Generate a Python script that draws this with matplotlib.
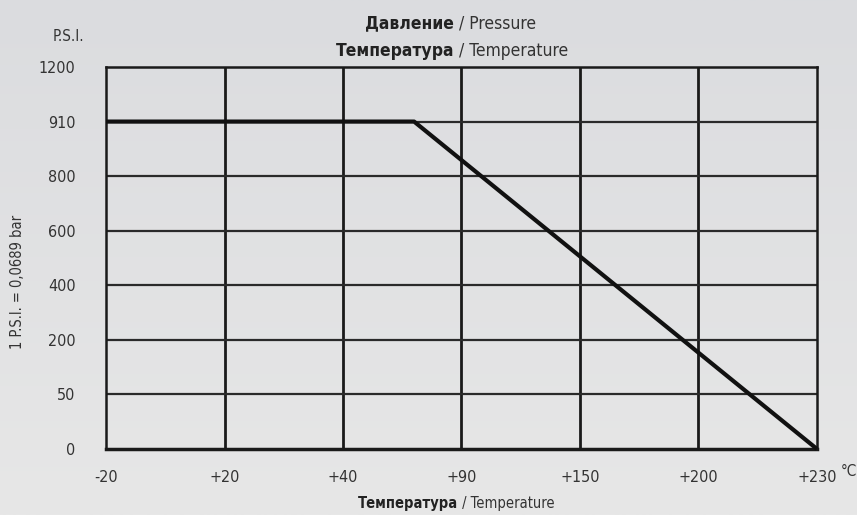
import numpy as np
import matplotlib.pyplot as plt
from matplotlib.colors import LinearSegmentedColormap

# tick values (axes are not linear: each tick is equally spaced)
x_ticks = [-20, 20, 40, 90, 150, 200, 230]
x_labels = ["-20", "+20", "+40", "+90", "+150", "+200", "+230"]
y_ticks = [0, 50, 200, 400, 600, 800, 910, 1200]
y_labels = ["0", "50", "200", "400", "600", "800", "910", "1200"]

# pressure / temperature curve
temp = [-20, 70, 230]
psi = [910, 910, 0]

plt.rcParams["font.family"] = ["DejaVu Sans"]
plt.rcParams["font.stretch"] = "condensed"


def fwd(tk):
    tk = np.asarray(tk, dtype=float)
    return lambda v: np.interp(v, tk, np.arange(len(tk)))


def inv(tk):
    tk = np.asarray(tk, dtype=float)
    return lambda v: np.interp(v, np.arange(len(tk)), tk)


fig = plt.figure(figsize=(8.57, 5.15), dpi=100)

# light grey gradient background
bg = fig.add_axes([0, 0, 1, 1], zorder=-10)
grad = np.linspace(0, 1, 256).reshape(-1, 1)
bg.imshow(grad, aspect="auto", extent=[0, 1, 0, 1],
          cmap=LinearSegmentedColormap.from_list("g", ["#dbdcdf", "#e7e7e7"]))
bg.set_xlim(0, 1)
bg.set_ylim(0, 1)
bg.axis("off")

ax = fig.add_axes([0.1237, 0.1282, 0.8296, 0.7417])
ax.set_facecolor("none")
ax.set_xscale("function", functions=(fwd(x_ticks), inv(x_ticks)))
ax.set_yscale("function", functions=(fwd(y_ticks), inv(y_ticks)))
ax.set_xlim(x_ticks[0], x_ticks[-1])
ax.set_ylim(y_ticks[0], y_ticks[-1])

ax.set_xticks(x_ticks, x_labels)
ax.set_yticks(y_ticks, y_labels)
ax.tick_params(length=0, labelsize=11.5, labelcolor="#333333")
ax.tick_params(axis="x", pad=15)
ax.tick_params(axis="y", pad=22)
ax.minorticks_off()

for v in x_ticks[1:-1]:
    ax.axvline(v, color="#1a1a1a", lw=2.0, zorder=1)
for v in y_ticks[1:-1]:
    ax.axhline(v, color="#2a2a2a", lw=1.6, zorder=1)

for s in ax.spines.values():
    s.set_color("#1a1a1a")
    s.set_linewidth(1.8)
ax.spines["bottom"].set_linewidth(2.5)

ax.plot(temp, psi, color="#111111", lw=3, solid_capstyle="butt", zorder=3, clip_on=False)

# two-part titles: bold Russian, regular English, centred as one line
parts = []


def two_part(xc, y, bold, rest, size):
    a = bg.text(0, 1 - y / 515, bold, fontsize=size, fontweight="bold",
                color="#222222", ha="left", va="baseline")
    b = bg.text(0, 1 - y / 515, rest, fontsize=size, color="#333333",
                ha="left", va="baseline")
    parts.append((xc, a, b))


two_part(451, 28, "Давление", " / Pressure", 12.5)
two_part(452, 56, "Температура", " / Temperature", 12.5)
two_part(456, 508, "Температура", " / Temperature", 10.5)

fig.canvas.draw()
r = fig.canvas.get_renderer()
for xc, a, b in parts:
    wa = a.get_window_extent(r).width
    wb = b.get_window_extent(r).width
    x0 = xc - (wa + wb) / 2
    a.set_x(x0 / 857)
    b.set_x((x0 + wa) / 857)

fig.text(84 / 857, 1 - 36 / 515, "P.S.I.", fontsize=11, color="#333333", ha="right", va="center")
fig.text(841 / 857, 1 - 472 / 515, "°C", fontsize=11, color="#333333", ha="left", va="center")
fig.text(18 / 857, 1 - 282 / 515, "1 P.S.I. = 0,0689 bar", fontsize=10.5, color="#333333",
         rotation=90, ha="center", va="center")

fig.savefig("out.png", dpi=100)
